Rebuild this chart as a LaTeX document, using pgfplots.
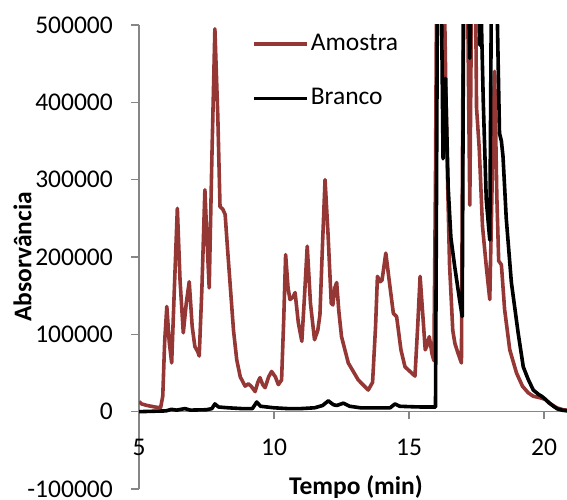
\documentclass[border=0pt]{standalone}
\usepackage{fontspec}
\setmainfont{Carlito}
\usepackage{pgfplots}
\pgfplotsset{compat=1.18}
\definecolor{amostra}{RGB}{149,55,53}
\definecolor{axisgray}{RGB}{134,134,134}
\begin{document}
\fontsize{25.5}{30}\selectfont
\begin{tikzpicture}
\begin{axis}[
  at={(139pt,10pt)}, anchor=south west,
  scale only axis, width=428pt, height=464pt,
  xmin=5, xmax=20.85, ymin=-100000, ymax=500000,
  axis y line=left, axis x line=middle,
  axis line style={-, draw=axisgray, line width=1.3pt},
  hide obscured x ticks=false, hide obscured y ticks=false,
  scaled y ticks=false, scaled x ticks=false,
  tick align=outside, major tick length=7.5pt,
  tick style={draw=axisgray, line width=1.3pt},
  xtick={5,10,15,20}, xticklabels={5,10,15,20},
  ytick={-100000,0,100000,200000,300000,400000,500000},
  yticklabels={-100000,0,100000,200000,300000,400000,500000},
  xticklabel style={yshift=-11pt},
  yticklabel style={xshift=-10pt},
  xlabel={Tempo (min)}, ylabel={Absorvância},
  xlabel style={font=\bfseries, at={(axis description cs:0.507,-0.0119)}, anchor=base},
  ylabel style={font=\bfseries, at={(axis description cs:-0.272,0.5)}, anchor=center},
  legend image code/.code={\draw[#1] (0pt,0pt) -- (53pt,0pt);},
  legend style={draw=none, fill=none, at={(axis description cs:0.264,0.985)}, anchor=north west,
    inner sep=0pt, row sep=30pt, nodes={inner sep=2pt}},
  legend cell align=left,
  every axis plot/.append style={line width=3.6pt, line join=round},
]
\addplot[amostra] coordinates {
(5.00,13000) (5.10,10000) (5.30,8000) (5.60,6000) (5.80,5000) (5.88,20000) (5.95,90000)
(6.03,136000) (6.12,90000) (6.21,63000) (6.30,150000) (6.42,263000) (6.52,170000)
(6.64,102000) (6.75,140000) (6.86,168000) (6.97,110000) (7.07,84000) (7.17,78000)
(7.23,72000) (7.33,160000) (7.44,287000) (7.52,220000) (7.60,160000) (7.70,330000)
(7.81,495000) (7.92,380000) (8.00,265000) (8.10,262000) (8.19,255000) (8.28,210000)
(8.37,167000) (8.50,105000) (8.62,67000) (8.75,45000) (8.93,33000) (9.05,36000)
(9.15,33000) (9.30,26000) (9.40,38000) (9.48,44000) (9.58,35000) (9.67,31000)
(9.80,45000) (9.91,52000) (10.05,45000) (10.16,35000) (10.28,41000) (10.36,120000)
(10.43,203000) (10.52,160000) (10.59,145000) (10.70,148000) (10.78,154000) (10.90,115000)
(11.03,91000) (11.13,150000) (11.23,214000) (11.35,140000) (11.50,93000) (11.62,105000)
(11.70,125000) (11.80,220000) (11.89,300000) (12.00,230000) (12.12,140000) (12.18,138000)
(12.25,160000) (12.32,167000) (12.40,130000) (12.50,97000) (12.75,63000) (13.12,41000)
(13.49,28000) (13.65,38000) (13.76,110000) (13.83,175000) (13.93,168000) (14.00,170000)
(14.14,205000) (14.30,160000) (14.42,127000) (14.54,123000) (14.70,80000) (14.85,58000)
(15.22,46000) (15.32,110000) (15.41,175000) (15.50,130000) (15.60,80000) (15.66,85000)
(15.75,97000) (15.85,75000) (15.92,66000) (15.98,300000) (16.03,600000) (16.28,600000)
(16.40,340000) (16.50,190000) (16.62,105000) (16.70,88000) (16.81,76000) (16.94,63000)
(17.02,600000) (17.15,600000) (17.25,267000) (17.33,600000) (17.45,600000) (17.50,393000)
(17.60,340000) (17.72,240000) (17.86,188000) (17.99,145000) (18.08,300000) (18.17,440000)
(18.25,280000) (18.32,195000) (18.42,190000) (18.54,132000) (18.73,80000) (18.98,50000)
(19.20,33000) (19.41,24500) (19.60,20000) (19.85,18000) (20.04,16000) (20.20,11000)
(20.47,5000) (20.70,2500) (20.85,2000)
};
\addlegendentry{Amostra}
\addplot[black] coordinates {
(5.00,0) (5.50,500) (6.00,1000) (6.20,3000) (6.40,2000) (6.70,4000) (6.90,2000)
(7.50,2500) (7.70,4000) (7.81,10000) (7.95,6000) (8.30,5000) (8.80,4000) (9.20,4000)
(9.36,12500) (9.50,7000) (10.00,5000) (10.50,4000) (11.00,4000) (11.50,5000) (11.80,8000)
(12.01,14000) (12.20,9000) (12.32,8000) (12.57,11000) (12.80,7000) (13.20,5000)
(13.80,5000) (14.30,5000) (14.48,10000) (14.65,7000) (15.00,6500) (15.50,6000)
(15.98,6000) (16.06,600000) (16.18,600000) (16.26,327000) (16.35,431000) (16.45,290000)
(16.55,225000) (16.69,188000) (16.87,145000) (16.97,123000) (17.03,600000) (17.18,600000)
(17.25,457000) (17.32,600000) (17.55,600000) (17.62,474000) (17.67,520000) (17.75,400000)
(17.86,274000) (17.99,222000) (18.06,600000) (18.22,600000) (18.35,360000) (18.42,350000)
(18.48,330000) (18.60,250000) (18.79,167000) (19.04,102000) (19.23,58000) (19.41,42000)
(19.60,28000) (19.81,22000) (19.91,20000) (20.05,16000) (20.20,11000) (20.35,7000)
(20.50,3500) (20.66,2000) (20.85,1000)
};
\addlegendentry{Branco}
\end{axis}
\pgfresetboundingbox
\useasboundingbox (0,0) rectangle (567pt,499pt);
\end{tikzpicture}
\end{document}
